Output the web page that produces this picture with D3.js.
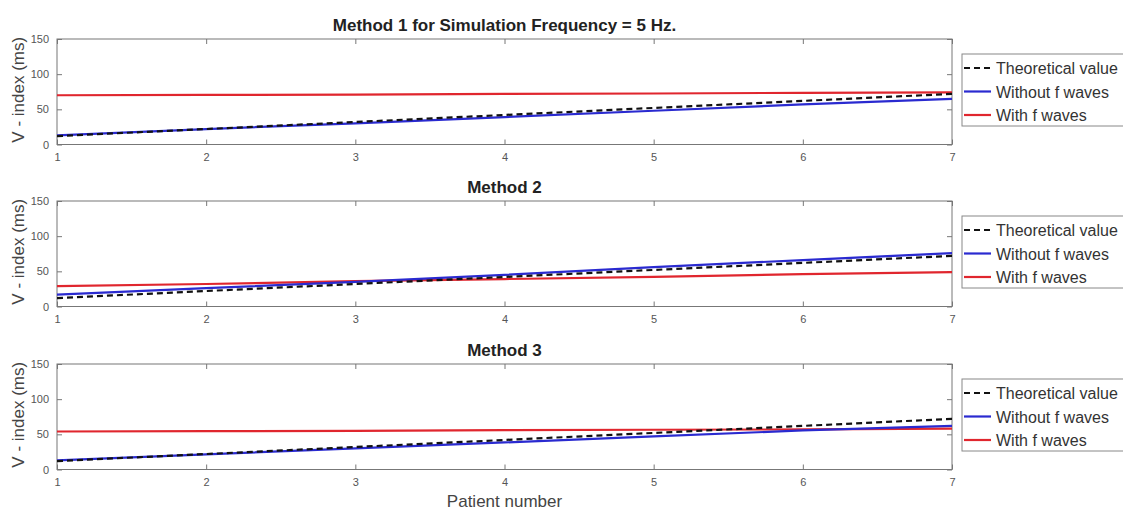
<!DOCTYPE html>
<html>
<head>
<meta charset="utf-8">
<style>
    body { margin: 0; background: #fff; }
    svg { display: block; font-family: Arial, 'Liberation Sans', sans-serif; }
    .tick-label { font-size: 11px; fill: #555; }
    .title { font-size: 17px; font-weight: bold; fill: #222; }
    .axis-label { font-size: 17px; fill: #444; }
    .legend-text { font-size: 16px; fill: #333; }
</style>
</head>
<body>
<svg width="1123" height="512"></svg>
<script src="https://d3js.org/d3.v7.min.js"></script>
<script>
    // data
    let patients = [1, 2, 3, 4, 5, 6, 7]
    let theoretical = [12, 22, 32, 42, 52, 62, 72]

    let m1Without = [13, 22, 30, 39, 48, 57, 65]
    let m1With = [70, 70.5, 71, 72, 72.5, 73.5, 74]

    let m2Without = [17, 26, 35, 45, 56, 66, 76]
    let m2With = [29, 32, 36, 39, 42, 46, 49]

    let m3Without = [13, 21.5, 30, 38.5, 47, 55.5, 62]
    let m3With = [54, 54.5, 55, 56, 56.5, 57, 58]

    let titles = ["Method 1 for Simulation Frequency = 5 Hz.", "Method 2", "Method 3"]
    let seriesNames = ["Theoretical value", "Without f waves", "With f waves"]
    let yTicks = [0, 50, 100, 150]

    let panels = [
        { title: titles[0], without: m1Without, withF: m1With },
        { title: titles[1], without: m2Without, withF: m2With },
        { title: titles[2], without: m3Without, withF: m3With }
    ]

    let colors = ["#111", "#2a2ad0", "#e0262e"]

    let svg = d3.select("svg")

    let left = 57, right = 952
    let tops = [39, 201, 364]
    let ph = 105.5

    let x = d3.scaleLinear().domain([1, 7]).range([left, right])

    panels.forEach((p, i) => {
        let top = tops[i]
        let y = d3.scaleLinear().domain([0, 150]).range([top + ph, top])
        let g = svg.append("g")

        // box
        g.append("rect")
            .attr("x", left).attr("y", top)
            .attr("width", right - left).attr("height", ph)
            .attr("fill", "#fff")
            .attr("stroke", "#777")

        // inward ticks (bottom/top and left/right)
        g.append("g")
            .attr("transform", `translate(0,${top + ph})`)
            .call(d3.axisBottom(x).tickValues(patients).tickSize(-5).tickPadding(9).tickFormat(d3.format("d")))
            .call(a => a.select(".domain").remove())
            .call(a => a.selectAll("line").attr("stroke", "#777"))
            .call(a => a.selectAll("text").attr("class", "tick-label").attr("fill", null))

        g.append("g")
            .attr("transform", `translate(0,${top})`)
            .call(d3.axisTop(x).tickValues(patients).tickSize(-5).tickFormat(""))
            .call(a => a.select(".domain").remove())
            .call(a => a.selectAll("line").attr("stroke", "#777"))

        g.append("g")
            .attr("transform", `translate(${left},0)`)
            .call(d3.axisLeft(y).tickValues(yTicks).tickSize(-5).tickPadding(8))
            .call(a => a.select(".domain").remove())
            .call(a => a.selectAll("line").attr("stroke", "#777"))
            .call(a => a.selectAll("text").attr("class", "tick-label").attr("fill", null))

        g.append("g")
            .attr("transform", `translate(${right},0)`)
            .call(d3.axisRight(y).tickValues(yTicks).tickSize(-5).tickFormat(""))
            .call(a => a.select(".domain").remove())
            .call(a => a.selectAll("line").attr("stroke", "#777"))

        let line = d3.line()
            .x((d, j) => x(patients[j]))
            .y(d => y(d))

        g.append("path").datum(p.withF)
            .attr("d", line).attr("fill", "none")
            .attr("stroke", colors[2]).attr("stroke-width", 2.2)
        g.append("path").datum(p.without)
            .attr("d", line).attr("fill", "none")
            .attr("stroke", colors[1]).attr("stroke-width", 2.2)
        g.append("path").datum(theoretical)
            .attr("d", line).attr("fill", "none")
            .attr("stroke", colors[0]).attr("stroke-width", 2.2)
            .attr("stroke-dasharray", "6,4")

        // title
        g.append("text")
            .attr("class", "title")
            .attr("x", (left + right) / 2)
            .attr("y", top - 8)
            .attr("text-anchor", "middle")
            .text(p.title)

        // y label
        g.append("text")
            .attr("class", "axis-label")
            .attr("transform", `translate(24,${top + ph / 2 - 2}) rotate(-90)`)
            .attr("text-anchor", "middle")
            .text("V - index (ms)")

        // legend (box runs off the right edge like the original)
        let lx = 962, ly = top + 15
        let lg = g.append("g")
        lg.append("rect")
            .attr("x", lx).attr("y", ly)
            .attr("width", 200).attr("height", 72)
            .attr("fill", "#fff").attr("stroke", "#888")
        seriesNames.forEach((name, k) => {
            let ry = ly + 14 + k * 23.5
            lg.append("line")
                .attr("x1", lx + 2).attr("x2", lx + 29)
                .attr("y1", ry).attr("y2", ry)
                .attr("stroke", colors[k]).attr("stroke-width", 2.2)
                .attr("stroke-dasharray", k == 0 ? "6,4" : null)
            lg.append("text")
                .attr("class", "legend-text")
                .attr("x", lx + 34).attr("y", ry + 6)
                .text(name)
        })
    })

    svg.append("text")
        .attr("class", "axis-label")
        .attr("x", (left + right) / 2)
        .attr("y", 507)
        .attr("text-anchor", "middle")
        .text("Patient number")
</script>
</body>
</html>
